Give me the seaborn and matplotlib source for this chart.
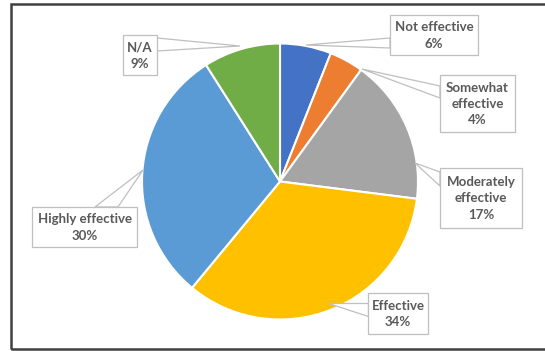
import matplotlib
matplotlib.use("Agg")
import matplotlib.pyplot as plt
from matplotlib.patches import Polygon, Rectangle
import seaborn as sns

sns.set_style("white")
plt.rcParams['font.family'] = ['Lato', 'DejaVu Sans']

categories = ["Not effective", "Somewhat\neffective", "Moderately\neffective",
              "Effective", "Highly effective", "N/A"]
values = [6, 4, 17, 34, 30, 9]
colors = ["#4472C4", "#ED7D31", "#A5A5A5", "#FFC000", "#5B9BD5", "#70AD47"]

W, H = 545, 351
fig = plt.figure(figsize=(W / 100, H / 100), dpi=100)
ax = fig.add_axes([0, 0, 1, 1])
ax.set_xlim(0, W)
ax.set_ylim(0, H)
ax.set_aspect('equal')
ax.axis('off')

def P(x, y):
    return (x, H - y)

# outer frame
ax.add_patch(Rectangle(P(10.5, 349), W, 345.5, fill=False, edgecolor="#404040", lw=1.8))

cx, cy = P(280, 181.5)
ax.pie(values, colors=colors, startangle=90, counterclock=False,
       center=(cx, cy), radius=138,
       wedgeprops=dict(edgecolor="white", linewidth=1.5))
ax.set_xlim(0, W)
ax.set_ylim(0, H)

# callouts: box (x0, y0, x1, y1) in pixel coords, tip, base points
callouts = [
    ((390, 15, 478, 55), (306, 45), [(390, 38), (390, 48)]),
    ((440, 75, 515, 132), (362, 69), [(440, 86), (440, 98)]),
    ((440, 168, 522, 228), (415, 163), [(440, 172), (440, 186)]),
    ((368, 293, 428, 334), (328, 303), [(368, 303), (368, 316)]),
    ((32, 207, 137, 247), (143, 170), [(95, 207), (118, 207)]),
    ((123, 35, 157, 75), (240, 46), [(157, 38), (157, 51)]),
]
for (label, v), (box, tip, base) in zip(zip(categories, values), callouts):
    x0, y0, x1, y1 = box
    tri = [P(*tip), P(*base[0]), P(*base[1])]
    ax.add_patch(Polygon(tri, closed=True, facecolor="white", edgecolor="#BFBFBF", lw=0.9, zorder=5))
    ax.add_patch(Rectangle(P(x0, y1), x1 - x0, y1 - y0, facecolor="white",
                           edgecolor="#BFBFBF", lw=0.9, zorder=6))
    ax.text(*P((x0 + x1) / 2, (y0 + y1) / 2 + 0.5), f"{label}\n{v}%", ha="center", va="center",
            fontsize=9.5, color="#595959", fontweight="bold", linespacing=1.45, zorder=7)

fig.savefig("out.png", dpi=100)
